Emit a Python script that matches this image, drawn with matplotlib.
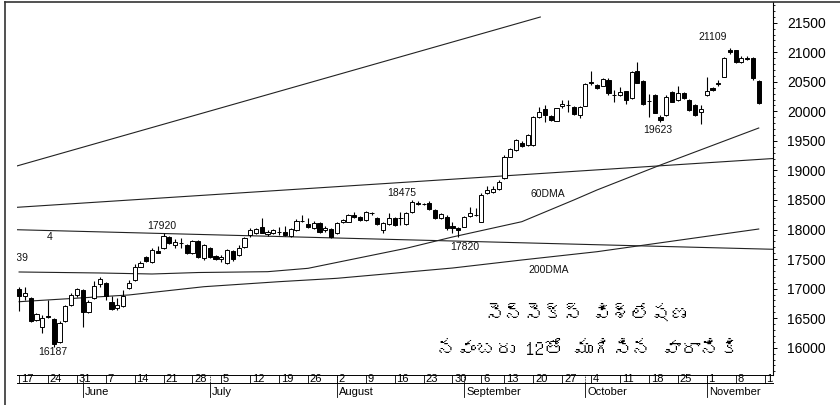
import numpy as np
import pandas as pd
import matplotlib
matplotlib.use("Agg")
import matplotlib.pyplot as plt
from matplotlib.lines import Line2D
from matplotlib.ticker import MultipleLocator, FixedLocator
from matplotlib.transforms import blended_transform_factory, Bbox
from matplotlib import font_manager as fm
from matplotlib.ft2font import FT2Font

# ---------------- data ----------------
start_date = "2010-05-17"
end_date = "2010-11-12"
holidays = ["2010-09-10"]

opens = [16994, 16875, 16847, 16470, 16351, 16530, 16487, 16102, 16453, 16723,
         16892, 16977, 16610, 16837, 17078, 17100, 16779, 16673, 16707, 17011,
         17146, 17372, 17536, 17457, 17642, 17682, 17874, 17738, 17772, 17738,
         17608, 17806, 17519, 17688, 17553, 17502, 17429, 17642, 17570, 17705,
         17908, 17942, 18043, 17925, 17947, 17959, 17964, 17891, 17992, 18150,
         18094, 18021, 18111, 17992, 18009, 17936, 18133, 18133, 18246, 18212,
         18162, 18280, 18190, 17992, 18094, 18196, 18196, 18094, 18292, 18444,
         18432, 18444, 18331, 18190, 18218, 18060, 18031, 18048, 18229, 18246,
         18133, 18618, 18640, 18682, 18867, 19232, 19346, 19469, 19431, 19431,
         19909, 20035, 19926, 19842, 20091, 20107, 20079, 19938, 20091, 20502,
         20446, 20434, 20530, 20277, 20277, 20344, 20221, 20683, 20514, 20175,
         20277, 19909, 19938, 20322, 20192, 20315, 20192, 20107, 19984, 20277,
         20400, 20475, 20586, 21038, 21038, 20840, 20898, 20908, 20514]
closes = [16875, 16926, 16458, 16571, 16504, 16520, 16063, 16424, 16707, 16892,
          16994, 16610, 16779, 17050, 17163, 16875, 16656, 16723, 16875, 17100,
          17372, 17440, 17468, 17654, 17608, 17890, 17772, 17794, 17765, 17603,
          17811, 17536, 17738, 17536, 17502, 17536, 17654, 17502, 17688, 17857,
          17992, 18009, 17947, 17964, 17992, 17954, 17908, 18009, 18150, 18145,
          18048, 18116, 17964, 18026, 17879, 18111, 18162, 18246, 18212, 18162,
          18302, 18275, 18094, 18111, 18196, 18077, 18188, 18285, 18471, 18439,
          18427, 18343, 18190, 18263, 18021, 18021, 17992, 18218, 18280, 18241,
          18584, 18669, 18686, 18810, 19232, 19358, 19515, 19414, 19600, 19909,
          19994, 19938, 19854, 20052, 20124, 20102, 19955, 20068, 20463, 20475,
          20400, 20542, 20305, 20272, 20333, 20192, 20671, 20485, 20119, 20170,
          19977, 19854, 20248, 20163, 20305, 20221, 20023, 19938, 20035, 20344,
          20361, 20470, 20898, 20999, 20830, 20908, 20893, 20559, 20136]
highs = [17028, 17028, 16858, 16588, 16554, 16808, 16504, 16453, 16723, 16926,
         17011, 16994, 16808, 17134, 17197, 17112, 16875, 16842, 16977, 17146,
         17417, 17468, 17553, 17688, 17722, 17942, 17891, 17840, 17857, 17755,
         17823, 17823, 17755, 17705, 17570, 17570, 17671, 17654, 17738, 17874,
         18026, 18026, 18196, 17992, 18009, 18043, 18060, 18026, 18179, 18246,
         18196, 18145, 18128, 18060, 18026, 18128, 18179, 18263, 18297, 18229,
         18314, 18297, 18212, 18128, 18280, 18212, 18297, 18297, 18500, 18483,
         18449, 18483, 18348, 18280, 18246, 18128, 18043, 18229, 18382, 18365,
         18618, 18737, 18737, 18838, 19261, 19380, 19532, 19498, 19617, 19921,
         20079, 20107, 19938, 20057, 20192, 20192, 20091, 20091, 20480, 20683,
         20463, 20564, 20564, 20361, 20417, 20344, 20683, 20840, 20530, 20288,
         20294, 19938, 20277, 20344, 20434, 20327, 20209, 20125, 20107, 20586,
         20412, 20530, 20920, 21077, 21038, 20937, 20937, 20920, 20530]
lows = [16622, 16808, 16436, 16453, 16249, 16500, 16013, 16080, 16436, 16707,
        16858, 16356, 16588, 16825, 17028, 16808, 16639, 16639, 16690, 17000,
        17129, 17367, 17451, 17434, 17603, 17671, 17755, 17688, 17688, 17586,
        17586, 17519, 17485, 17519, 17485, 17451, 17417, 17468, 17553, 17688,
        17874, 17925, 17942, 17891, 17925, 17908, 17891, 17874, 17975, 18128,
        18026, 18009, 17942, 17959, 17857, 17925, 18111, 18128, 18196, 18145,
        18145, 18246, 18077, 17942, 18085, 18060, 18077, 18077, 18280, 18415,
        18415, 18331, 18179, 18179, 17992, 17942, 17879, 18043, 18212, 18229,
        18128, 18601, 18618, 18669, 18855, 19227, 19329, 19397, 19414, 19414,
        19887, 19825, 19837, 19837, 20057, 19994, 19938, 19887, 20082, 20446,
        20378, 20429, 20277, 20163, 20260, 20125, 20209, 20480, 20107, 19909,
        19972, 19820, 19921, 20158, 20175, 20209, 20006, 19921, 19781, 20260,
        20344, 20429, 20581, 20965, 20818, 20818, 20869, 20530, 20125]

# moving averages (trading-day index, value)
dma60_idx = [0, 14, 23, 31, 43, 50, 67, 75, 87, 96, 100, 111, 128]
dma60_val = [17282, 17265, 17248, 17273, 17287, 17344, 17683, 17874, 18133,
             18500, 18669, 19092, 19718]
dma200_idx = [0, 19, 32, 45, 55, 75, 87, 100, 128]
dma200_val = [16779, 16893, 17033, 17118, 17175, 17349, 17485, 17625, 18009]

# trend lines (start idx, start value, end idx, end value)
trend_lines = [(-0.4, 19075, 90.2, 21596),
               (-0.4, 18376, 130.5, 19202),
               (-0.4, 17997, 130.5, 17666)]

# annotations (text, idx, value)
annotations = [("17920", 24.7, 18060), ("16187", 5.9, 15928),
               ("18475", 66.3, 18610), ("17820", 77.2, 17705),
               ("21109", 120.0, 21258), ("19623", 110.6, 19676),
               ("60DMA", 91.5, 18602), ("200DMA", 91.7, 17316),
               ("4", 5.2, 17874)]

y_ticks = list(range(16000, 21501, 500))
title_line1 = "సెన్సెక్స్ విశ్లేషణ"
title_line2 = "నవంబరు 12తో ముగిసిన వారానికి"

# ---------------- calendar ----------------
bdays = pd.bdate_range(start_date, end_date)
dates = bdays[~bdays.isin(pd.to_datetime(holidays))]
x = np.arange(len(dates))
all_days = pd.bdate_range(start_date, "2010-11-19")
tdays = all_days[~all_days.isin(pd.to_datetime(holidays))]
mondays = [i for i, d in enumerate(tdays) if d.weekday() == 0]
month_starts = [i for i in range(1, len(dates)) if dates[i].month != dates[i - 1].month]

# ---------------- figure ----------------
W, H = 840, 405
fig = plt.figure(figsize=(W / 100, H / 100), dpi=100)
fig.patch.set_facecolor("white")
L, R, T, B = 17, 773, 2, 375
ax = fig.add_axes([L / W, 1 - B / H, (R - L) / W, (B - T) / H])
ax.set_xlim(-0.363, 130.47)
ax.set_ylim(15539, 21850)
for s in ["left", "top", "bottom"]:
    ax.spines[s].set_visible(False)
ax.spines["right"].set_linewidth(0.8)

# trend lines and moving averages
lc = "#222222"
for x0, y0, x1, y1 in trend_lines:
    ax.plot([x0, x1], [y0, y1], color=lc, lw=0.8, zorder=1)
ax.plot(dma60_idx, dma60_val, color=lc, lw=0.8, zorder=1)
ax.plot(dma200_idx, dma200_val, color=lc, lw=0.8, zorder=1)

# candles
o = np.array(opens); c = np.array(closes)
hi = np.array(highs); lo = np.array(lows)
ax.vlines(x, lo, hi, color="black", lw=0.8, zorder=2)
body_bottom = np.minimum(o, c)
body_h = np.maximum(np.abs(c - o), 4)
colors = ["black" if cc < oo else "white" for oo, cc in zip(o, c)]
ax.bar(x, body_h, bottom=body_bottom, width=0.72, color=colors,
       edgecolor="black", linewidth=0.7, zorder=3)

# annotations
for txt, xi, yv in annotations:
    ax.text(xi, yv, txt, ha="center", va="center", fontsize=7.5,
            family="Liberation Sans", color="#111111", zorder=4)
ax.text(1.6, 17519, "17339", ha="right", va="center", fontsize=7.5,
        family="Liberation Sans", color="#111111", clip_on=True)

# y axis on right
ax.yaxis.tick_right()
ax.yaxis.set_major_locator(FixedLocator(y_ticks))
ax.yaxis.set_minor_locator(MultipleLocator(100))
ax.set_yticklabels([str(v) for v in y_ticks], family="Liberation Sans", fontsize=10)
ax.tick_params(axis="y", which="major", direction="out", length=3, width=0.7, pad=7)
ax.tick_params(axis="y", which="minor", direction="out", length=1.5, width=0.6)
ax.set_xticks([])

# date strip
tr = blended_transform_factory(ax.transData, fig.transFigure)
fy = lambda ypx: 1 - ypx / H
xl = ax.get_xlim()
strip_clip = Bbox.from_extents(0, 0, R, H)
for yy in (375, 383):
    fig.add_artist(Line2D([xl[0], xl[1]], [fy(yy), fy(yy)], transform=tr,
                          color="black", lw=0.7))
for m in mondays:
    if m > xl[1]:
        continue
    fig.add_artist(Line2D([m, m], [fy(375), fy(383)], transform=tr, color="black", lw=0.6))
    t = ax.text(m + 0.3, fy(379.5), str(tdays[m].day), transform=tr, ha="left", va="center",
                fontsize=8, family="Liberation Sans", clip_on=True)
    t.set_clip_box(strip_clip)
for ms in month_starts:
    fig.add_artist(Line2D([ms, ms], [fy(375), fy(383)], transform=tr, color="black",
                          lw=0.6, ls=(0, (1, 1))))
    fig.add_artist(Line2D([ms, ms], [fy(383), fy(397)], transform=tr, color="black", lw=0.6))
    ax.text(ms + 0.4, fy(392), dates[ms].strftime("%B"), transform=tr, ha="left",
            va="center", fontsize=8, family="Liberation Sans", clip_on=False)

# outer frame
fig.add_artist(Line2D([5 / W, 5 / W], [0, fy(2)], transform=fig.transFigure, color="#333333", lw=1.2))
fig.add_artist(Line2D([5 / W, 1], [fy(2), fy(2)], transform=fig.transFigure, color="#333333", lw=1.2))

# Telugu title: find a font with Telugu glyphs, if any
def find_font(ch):
    for f in fm.fontManager.ttflist:
        try:
            if ord(ch) in FT2Font(f.fname).get_charmap():
                return f.name
        except Exception:
            pass
    return None

tel = find_font("స")
fam = [tel, "DejaVu Sans"] if tel else ["Noto Sans", "DejaVu Sans"]
fig.text(587 / W, fy(313), title_line1, ha="center", va="center", fontsize=14,
         fontweight="bold", family=fam)
fig.text(588 / W, fy(348), title_line2, ha="center", va="center", fontsize=14,
         fontweight="bold", family=fam)

fig.savefig("out.png", dpi=100, facecolor="white")
